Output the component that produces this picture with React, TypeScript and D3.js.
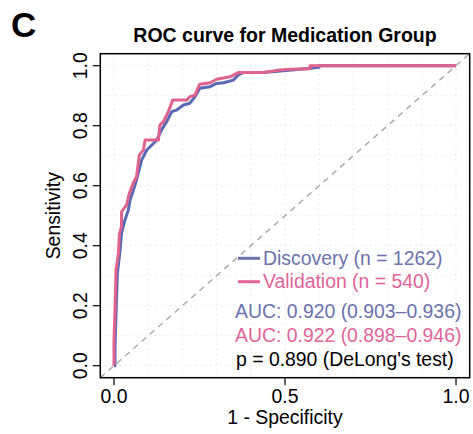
import React from "react";
import * as d3 from "d3";

const discoveryFpr = [0, 0.003, 0.003, 0.006, 0.01, 0.018, 0.022, 0.032, 0.042, 0.047, 0.058, 0.066, 0.081, 0.096, 0.11, 0.125, 0.139, 0.154, 0.169, 0.183, 0.203, 0.222, 0.237, 0.251, 0.281, 0.3, 0.32, 0.349, 0.363, 0.378, 0.437, 0.495, 0.56, 0.6, 0.6, 1];
const discoveryTpr = [0, 0, 0.06, 0.175, 0.308, 0.386, 0.441, 0.486, 0.519, 0.552, 0.59, 0.619, 0.686, 0.719, 0.735, 0.752, 0.786, 0.813, 0.847, 0.852, 0.869, 0.875, 0.897, 0.925, 0.93, 0.941, 0.943, 0.952, 0.969, 0.977, 0.977, 0.983, 0.99, 0.995, 1, 1];
const validationFpr = [0, 0, 0, 0.003, 0.006, 0.013, 0.016, 0.022, 0.022, 0.037, 0.045, 0.056, 0.066, 0.074, 0.086, 0.091, 0.13, 0.134, 0.144, 0.159, 0.172, 0.213, 0.222, 0.237, 0.247, 0.251, 0.281, 0.3, 0.339, 0.363, 0.437, 0.485, 0.515, 0.573, 0.573, 1];
const validationTpr = [0, 0.063, 0.086, 0.186, 0.319, 0.375, 0.441, 0.463, 0.513, 0.536, 0.575, 0.608, 0.63, 0.702, 0.719, 0.752, 0.752, 0.802, 0.813, 0.847, 0.886, 0.886, 0.897, 0.902, 0.93, 0.938, 0.943, 0.955, 0.963, 0.977, 0.977, 0.986, 0.988, 0.99, 1, 1];

const xTicks = [0, 0.5, 1];
const yTicks = [0, 0.2, 0.4, 0.6, 0.8, 1];
const gridTicks = [0, 0.1, 0.2, 0.3, 0.4, 0.5, 0.6, 0.7, 0.8, 0.9, 1];

const legendLabels = ["Discovery (n = 1262)", "Validation (n = 540)"];
const aucLabels = ["AUC: 0.920 (0.903\u20130.936)", "AUC: 0.922 (0.898\u20130.946)"];
const pLabel = "p = 0.890 (DeLong's test)";

const BLUE = "#5a69b6";
const PINK = "#e0628f";
const BLUE_T = "#6b72ac";
const PINK_T = "#e2649a";
const FONT = "'Liberation Sans', Arial, Helvetica, sans-serif";

export default function App() {
  const W = 473, H = 434;
  const x = d3.scaleLinear().domain([-0.04, 1.04]).range([100.3, 469.7]);
  const y = d3.scaleLinear().domain([-0.04, 1.04]).range([377.7, 53.7]);
  const line = d3.line<[number, number]>().x((d) => x(d[0])).y((d) => y(d[1]));
  const disc = discoveryFpr.map((f, i) => [f, discoveryTpr[i]] as [number, number]);
  const val = validationFpr.map((f, i) => [f, validationTpr[i]] as [number, number]);
  const [x0, x1] = x.range();
  const [y0, y1] = y.range();
  const fmt = d3.format(".1f");
  return (
    <svg width={W} height={H} style={{ position: "absolute", left: 0, top: 0, background: "#fff" }} fontFamily={FONT}>
      <defs>
        <clipPath id="plotclip">
          <rect x={x0} y={y1} width={x1 - x0} height={y0 - y1} />
        </clipPath>
      </defs>
      <text x={11} y={36.5} fontSize={35} fontWeight="bold" fill="#000">C</text>
      <text x={(x0 + x1) / 2} y={42} fontSize={19.5} fontWeight="bold" textAnchor="middle" fill="#000">ROC curve for Medication Group</text>
      {gridTicks.map((t) => (
        <g key={"g" + t}>
          <line x1={x(t)} x2={x(t)} y1={y1} y2={y0} stroke="#d8d8d8" strokeWidth={1} strokeDasharray="1,4" />
          <line x1={x0} x2={x1} y1={y(t)} y2={y(t)} stroke="#d8d8d8" strokeWidth={1} strokeDasharray="1,4" />
        </g>
      ))}
      <g clipPath="url(#plotclip)">
        <line x1={x(-0.04)} y1={y(-0.04)} x2={x(1.04)} y2={y(1.04)} stroke="#a8a8a8" strokeWidth={1.4} strokeDasharray="6,5" />
        <path d={line(disc) || ""} fill="none" stroke={BLUE} strokeWidth={3} strokeLinejoin="round" />
        <path d={line(val) || ""} fill="none" stroke={PINK} strokeWidth={3} strokeLinejoin="round" />
      </g>
      <rect x={x0} y={y1} width={x1 - x0} height={y0 - y1} fill="none" stroke="#000" strokeWidth={1.5} />
      {xTicks.map((t) => (
        <g key={"x" + t}>
          <line x1={x(t)} x2={x(t)} y1={y0} y2={y0 + 7.5} stroke="#000" strokeWidth={1.2} />
          <text x={x(t)} y={403} fontSize={19.4} textAnchor="middle" fill="#000">{fmt(t)}</text>
        </g>
      ))}
      {yTicks.map((t) => (
        <g key={"y" + t}>
          <line x1={x0} x2={x0 - 7.5} y1={y(t)} y2={y(t)} stroke="#000" strokeWidth={1.2} />
          <text transform={`translate(87,${y(t)}) rotate(-90)`} fontSize={19.4} textAnchor="middle" fill="#000">{fmt(t)}</text>
        </g>
      ))}
      <text x={(x0 + x1) / 2} y={424} fontSize={19.4} textAnchor="middle" fill="#000">1 - Specificity</text>
      <text transform={`translate(60,${(y0 + y1) / 2}) rotate(-90)`} fontSize={19.4} textAnchor="middle" fill="#000">Sensitivity</text>
      {legendLabels.map((l, i) => (
        <g key={l}>
          <line x1={238} x2={260} y1={258.3 + i * 23.4} y2={258.3 + i * 23.4} stroke={i === 0 ? BLUE_T : PINK_T} strokeWidth={3} />
          <text x={263} y={265 + i * 23.4} fontSize={19.4} fill={i === 0 ? BLUE_T : PINK_T}>{l}</text>
        </g>
      ))}
      {aucLabels.map((l, i) => (
        <text key={l} x={235} y={318.3 + i * 23.4} fontSize={19.4} fill={i === 0 ? BLUE_T : PINK_T}>{l}</text>
      ))}
      <text x={236} y={365.5} fontSize={19.4} fill="#000">{pLabel}</text>
    </svg>
  );
}
